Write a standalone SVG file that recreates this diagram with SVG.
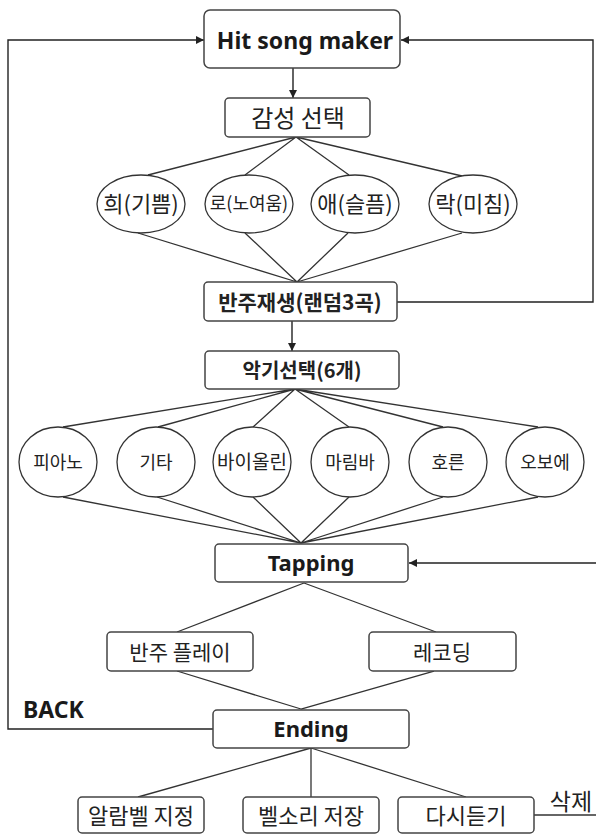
<svg xmlns="http://www.w3.org/2000/svg" width="596" height="834" viewBox="0 0 596 834">
<defs>
<marker id="ah" viewBox="0 0 10 10" refX="10" refY="5" markerWidth="8" markerHeight="8" markerUnits="userSpaceOnUse" orient="auto">
<path d="M0,0 L10,5 L0,10 z" fill="#222"/>
</marker>
<style>
.box{fill:#fff;stroke:#444;stroke-width:1.5}
.ell{fill:#fff;stroke:#333;stroke-width:1.3}
.ln{fill:none;stroke:#333;stroke-width:1.3}
.ar{fill:none;stroke:#222;stroke-width:1.4;marker-end:url(#ah)}
.ko{font-family:"Noto Sans CJK KR","Noto Sans",sans-serif;fill:#222;text-anchor:middle}
.kb{font-family:"Noto Sans CJK KR","Noto Sans",sans-serif;fill:#222;text-anchor:middle;font-weight:700}
.en{font-family:"Noto Sans","Liberation Sans",sans-serif;font-weight:700;fill:#1a1a1a;text-anchor:middle}
</style>
</defs>
<rect width="596" height="834" fill="#fff"/>

<g id="connectors">
<path class="ar" d="M213,729 H8 V40 H204"/>
<path class="ar" d="M397,302 H593 V40 H401"/>
<path class="ar" d="M596,563 H409"/>
<path class="ar" d="M293,68 V98"/>
<path class="ar" d="M292,321 V351"/>
<path class="ln" d="M296,137 L148,175 M296,137 L245,175 M296,137 L349,175 M296,137 L462,176"/>
<path class="ln" d="M138,233 L297,282 M245,233 L297,282 M348,233 L297,282 M462,233 L297,282"/>
<path class="ln" d="M295,389 L63,427 M295,389 L158,427 M295,389 L253,427 M295,389 L349,427 M295,389 L443,427 M295,389 L538,427"/>
<path class="ln" d="M63,497 L301,543 M157,497 L301,543 M253,497 L301,543 M349,497 L301,543 M443,497 L301,543 M538,497 L301,543"/>
<path class="ln" d="M304,583 L177,632 M304,583 L436,632"/>
<path class="ln" d="M177,671 L301,709 M434,671 L301,709"/>
<path class="ln" d="M311,748 L138,797 M311,748 V797 M311,748 L466,797"/>
<path class="ln" d="M534,815 H596"/>
</g>

<g id="hit"><rect class="box" x="204" y="10" width="196" height="58" rx="6"/><text class="en" x="305" y="49" font-size="23">Hit song maker</text></g>
<g id="gamseong"><rect class="box" x="225" y="98" width="145" height="39" rx="4"/><text class="ko" x="298" y="127" font-size="24">감성 선택</text></g>

<g id="hui"><ellipse class="ell" cx="141" cy="204" rx="44" ry="29"/><text class="ko" x="141" y="212" font-size="22">희(기쁨)</text></g>
<g id="ro"><ellipse class="ell" cx="249" cy="204" rx="44" ry="29"/><text class="ko" x="249" y="210" font-size="18">로(노여움)</text></g>
<g id="ae"><ellipse class="ell" cx="355" cy="204" rx="44" ry="29"/><text class="ko" x="355" y="212" font-size="22">애(슬픔)</text></g>
<g id="rak"><ellipse class="ell" cx="473" cy="204" rx="44" ry="29"/><text class="ko" x="473" y="212" font-size="22">락(미침)</text></g>

<g id="banju"><rect class="box" x="204" y="282" width="193" height="39" rx="4"/><text class="kb" x="300" y="310" font-size="21">반주재생(랜덤3곡)</text></g>
<g id="akgi"><rect class="box" x="205" y="351" width="194" height="38" rx="4"/><text class="kb" x="302" y="378" font-size="20">악기선택(6개)</text></g>

<g id="piano"><ellipse class="ell" cx="58" cy="462" rx="39" ry="35"/><text class="ko" x="58" y="469" font-size="18">피아노</text></g>
<g id="guitar"><ellipse class="ell" cx="156" cy="462" rx="39" ry="35"/><text class="ko" x="156" y="469" font-size="18">기타</text></g>
<g id="violin"><ellipse class="ell" cx="252" cy="462" rx="39" ry="35"/><text class="ko" x="252" y="469" font-size="19">바이올린</text></g>
<g id="marimba"><ellipse class="ell" cx="350" cy="462" rx="39" ry="35"/><text class="ko" x="350" y="469" font-size="18">마림바</text></g>
<g id="horn"><ellipse class="ell" cx="448" cy="462" rx="39" ry="35"/><text class="ko" x="448" y="469" font-size="18">호른</text></g>
<g id="oboe"><ellipse class="ell" cx="545" cy="462" rx="39" ry="35"/><text class="ko" x="545" y="469" font-size="18">오보에</text></g>

<g id="tapping"><rect class="box" x="215" y="544" width="193" height="38" rx="4"/><text class="en" x="311" y="571" font-size="22">Tapping</text></g>
<g id="play"><rect class="box" x="107" y="632" width="146" height="39" rx="4"/><text class="ko" x="180" y="660" font-size="21">반주 플레이</text></g>
<g id="record"><rect class="box" x="369" y="632" width="147" height="39" rx="4"/><text class="ko" x="442" y="660" font-size="21">레코딩</text></g>
<g id="ending"><rect class="box" x="213" y="710" width="196" height="38" rx="4"/><text class="en" x="311" y="737" font-size="22">Ending</text></g>
<g id="back"><text class="en" x="23" y="718" font-size="23" style="text-anchor:start">BACK</text></g>

<g id="alarm"><rect class="box" x="78" y="797" width="126" height="36" rx="4"/><text class="ko" x="141" y="824" font-size="22">알람벨 지정</text></g>
<g id="bell"><rect class="box" x="243" y="797" width="136" height="36" rx="4"/><text class="ko" x="311" y="824" font-size="22">벨소리 저장</text></g>
<g id="relisten"><rect class="box" x="398" y="797" width="136" height="36" rx="4"/><text class="ko" x="466" y="824" font-size="22">다시듣기</text></g>
<g id="delete"><text class="ko" x="571" y="810" font-size="23">삭제</text></g>
</svg>
